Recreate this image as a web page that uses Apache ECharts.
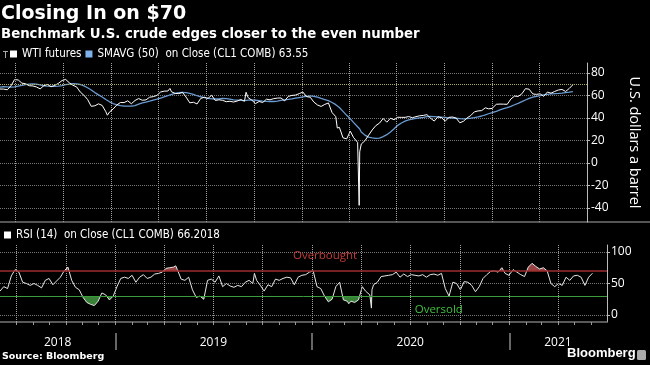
<!DOCTYPE html>
<html><head><meta charset="utf-8">
<script src="https://cdn.jsdelivr.net/npm/echarts@6/dist/echarts.min.js"></script>
<style>html,body{margin:0;padding:0;background:#000;}#c{width:650px;height:365px;}</style>
</head><body><div id="c"></div>
<script>
const dates = ['2018-06-01','2018-06-08','2018-06-15','2018-06-22','2018-06-29','2018-07-06','2018-07-13','2018-07-20','2018-07-27','2018-08-03','2018-08-10','2018-08-17','2018-08-24','2018-08-31','2018-09-07','2018-09-14','2018-09-21','2018-09-28','2018-10-05','2018-10-12','2018-10-19','2018-10-26','2018-11-02','2018-11-09','2018-11-16','2018-11-23','2018-11-30','2018-12-07','2018-12-14','2018-12-21','2018-12-24','2018-12-28',
'2019-01-04','2019-01-11','2019-01-18','2019-01-25','2019-02-01','2019-02-08','2019-02-15','2019-02-22','2019-03-01','2019-03-08','2019-03-15','2019-03-22','2019-03-29','2019-04-05','2019-04-12','2019-04-19','2019-04-23','2019-04-26','2019-05-03','2019-05-10','2019-05-17','2019-05-24','2019-05-31','2019-06-07','2019-06-14','2019-06-21','2019-06-28','2019-07-05','2019-07-12','2019-07-19','2019-07-26','2019-08-02','2019-08-09','2019-08-16','2019-08-23','2019-08-30','2019-09-06','2019-09-13','2019-09-16','2019-09-20','2019-09-27','2019-10-04','2019-10-11','2019-10-18','2019-10-25','2019-11-01','2019-11-08','2019-11-15','2019-11-22','2019-11-29','2019-12-06','2019-12-13','2019-12-20','2019-12-27',
'2020-01-03','2020-01-10','2020-01-17','2020-01-24','2020-01-31','2020-02-07','2020-02-14','2020-02-21','2020-02-28','2020-03-06','2020-03-09','2020-03-13','2020-03-20','2020-03-27','2020-04-03','2020-04-09','2020-04-17','2020-04-20','2020-04-21','2020-04-24','2020-05-01','2020-05-08','2020-05-15','2020-05-22','2020-05-29','2020-06-05','2020-06-12','2020-06-19','2020-06-26','2020-07-03','2020-07-10','2020-07-17','2020-07-24','2020-07-31','2020-08-07','2020-08-14','2020-08-21','2020-08-28','2020-09-04','2020-09-11','2020-09-18','2020-09-25','2020-10-02','2020-10-09','2020-10-16','2020-10-23','2020-10-30','2020-11-06','2020-11-13','2020-11-20','2020-11-27','2020-12-04','2020-12-11','2020-12-18','2020-12-24','2020-12-31',
'2021-01-08','2021-01-15','2021-01-22','2021-01-29','2021-02-05','2021-02-12','2021-02-19','2021-02-26','2021-03-05','2021-03-12','2021-03-19','2021-03-26','2021-04-02','2021-04-09','2021-04-16','2021-04-23','2021-04-30','2021-05-07','2021-05-14','2021-05-21','2021-05-28','2021-06-04'];

const wti = [65.8,65.7,65.1,68.6,74.2,73.8,71.0,70.5,68.7,68.5,67.6,65.9,68.7,69.8,67.8,69.0,70.8,73.3,74.3,71.3,69.1,67.6,63.1,60.2,56.5,50.4,50.9,52.6,51.2,45.6,42.5,45.3,
48.0,51.6,53.8,53.7,55.3,52.7,55.6,57.3,55.8,56.1,58.5,59.0,60.1,63.1,63.9,64.0,66.3,63.3,61.9,61.7,62.8,58.6,53.5,54.0,52.5,57.4,58.5,57.5,60.2,55.6,56.2,55.7,54.5,54.9,54.2,55.1,56.5,54.9,62.9,58.1,55.9,52.8,54.7,53.8,56.7,56.2,57.2,57.7,57.8,55.2,59.2,60.1,60.4,61.7,
63.1,59.0,58.5,54.2,51.6,50.3,52.1,53.4,44.8,41.3,31.1,31.7,22.4,21.5,28.3,22.8,18.3,-37.6,10.0,16.9,19.8,24.7,29.4,33.3,35.5,39.6,36.3,39.8,38.5,40.7,40.6,40.6,41.3,40.3,41.2,42.0,42.3,43.0,39.8,37.3,41.1,40.3,37.1,40.6,40.9,39.9,35.8,37.1,40.1,42.2,45.5,46.3,46.6,49.1,48.2,48.5,
52.2,52.4,52.3,52.2,56.9,59.5,59.2,61.5,66.1,65.6,61.4,61.0,61.5,59.3,63.1,62.1,63.6,64.9,65.4,63.6,66.3,69.6];

const sma = [67.5,67.8,67.6,67.4,67.6,68.3,69.0,69.6,70.1,70.4,70.1,69.4,68.6,68.3,68.2,68.1,68.3,68.8,69.6,70.2,70.5,70.4,69.8,68.6,66.9,64.9,62.6,60.6,58.7,56.4,55.9,54.4,
52.9,51.8,51.1,50.6,50.5,50.6,51.1,52.3,53.5,54.2,55.0,56.0,56.8,57.7,58.8,59.8,60.5,61.0,62.0,62.5,62.8,62.6,61.9,61.0,59.8,58.9,58.2,57.5,57.0,56.9,57.0,57.4,57.2,56.8,56.2,55.9,55.6,55.5,55.6,55.9,56.1,55.8,55.4,55.0,54.8,54.7,54.7,55.0,55.6,56.1,56.5,57.0,57.6,58.2,
58.8,59.3,59.6,59.3,58.5,57.4,56.4,55.4,53.8,51.9,51.0,49.3,45.9,42.4,39.3,36.1,32.2,31.0,30.3,27.6,24.8,23.0,22.3,22.0,22.2,23.5,25.2,27.6,30.5,33.5,35.6,37.2,38.3,39.0,39.6,40.1,40.6,41.2,41.4,41.2,41.0,40.8,40.5,40.2,40.0,39.8,39.4,39.3,39.5,39.9,40.4,41.0,41.8,42.8,43.8,44.8,
46.0,47.2,48.3,49.3,50.4,51.8,53.1,54.5,56.0,57.4,58.5,59.3,60.0,60.6,61.1,61.5,61.7,61.9,62.2,62.6,63.0,63.55];

const rsi = [38,45,42,62,72,68,52,50,47,50,47,43,55,58,48,54,60,70,76,55,44,40,28,20,17,15,22,35,32,24,22,30,
45,58,60,58,63,52,60,64,58,60,65,66,68,74,75,76,78,72,57,55,60,40,28,30,25,55,57,52,62,45,50,46,44,47,45,52,55,50,66,55,47,38,48,45,57,55,58,60,59,48,60,63,64,68,
70,45,42,30,21,25,45,52,24,22,18,22,20,24,45,38,32,11,40,48,52,61,62,63,64,68,60,65,61,64,63,62,64,60,64,65,63,66,42,30,52,50,40,53,52,47,37,45,58,64,69,70,68,75,66,63,
72,68,64,61,76,82,77,73,75,70,50,45,50,47,60,55,62,63,60,47,60,66.2];

const quarterLines = ['2018-07-01','2018-10-01','2019-01-01','2019-04-01','2019-07-01','2019-10-01','2020-01-01','2020-04-01','2020-07-01','2020-10-01','2021-01-01','2021-04-01'];
const monthTicks = ['2018-07-01','2018-08-01','2018-09-01','2018-10-01','2018-11-01','2018-12-01','2019-01-01','2019-02-01','2019-03-01','2019-04-01','2019-05-01','2019-06-01','2019-07-01','2019-08-01','2019-09-01','2019-10-01','2019-11-01','2019-12-01','2020-01-01','2020-02-01','2020-03-01','2020-04-01','2020-05-01','2020-06-01','2020-07-01','2020-08-01','2020-09-01','2020-10-01','2020-11-01','2020-12-01','2021-01-01','2021-02-01','2021-03-01','2021-04-01','2021-05-01','2021-06-01'];
const yearBounds = ['2019-01-01','2020-01-01','2021-01-01'];
const yearLabelAt = ['2018-09-16','2019-07-02','2020-07-01','2021-04-01'];
const yearLabels = ['2018','2019','2020','2021'];
const xMin = '2018-06-01', xMax = '2021-07-01';

const wtiName = 'WTI futures';
const smaName = 'SMAVG (50)  on Close (CL1 COMB) 63.55';
const rsiName = 'RSI (14)  on Close (CL1 COMB) 66.2018';

const ts = s => Date.parse(s + 'T00:00:00Z');
const priceData = dates.map((d,i)=>[ts(d),wti[i]]);
const smaData = dates.map((d,i)=>[ts(d),sma[i]]);
const rsiData = dates.map((d,i)=>[ts(d),rsi[i]]);
const qv = quarterLines.map(ts), mv = monthTicks.map(ts), yb = yearBounds.map(ts), yl = yearLabelAt.map(ts);

const LEG = '"Liberation Sans Narrow","DejaVu Sans Condensed","Arial Narrow",sans-serif';
const AX = '"Open Sans","Noto Sans",sans-serif';
const GRID_DOT = {type:'dotted', color:'#a0a0a0', width:1};
const H_DOT = {type:'dotted', color:'#777', width:1};
const quarterMarks = qv.map(v => ({xAxis:v}));

const chart = echarts.init(document.getElementById('c'), null, {renderer:'canvas'});
const xBase = () => ({type:'value', min:ts(xMin), max:ts(xMax), scale:true, splitLine:{show:false}, axisLabel:{show:false}});
chart.setOption({
  backgroundColor:'#000',
  animation:false,
  title:{text:'Closing In on $70', left:1, top:5, padding:0, itemGap:4,
    textStyle:{color:'#fff', fontSize:19, fontWeight:'bold', fontFamily:'DejaVu Sans'},
    subtext:'Benchmark U.S. crude edges closer to the even number',
    subtextStyle:{color:'#fff', fontSize:13.3, fontWeight:'bold', fontFamily:'DejaVu Sans'}},
  legend:[
    {left:10, top:48, padding:0, itemWidth:7, itemHeight:7, itemGap:4, icon:'rect', selectedMode:false,
     data:[wtiName, smaName], textStyle:{color:'#fff', fontSize:11.5, fontFamily:LEG}},
    {left:4, top:229, padding:0, itemWidth:7, itemHeight:7, icon:'rect', selectedMode:false,
     data:[rsiName], textStyle:{color:'#fff', fontSize:11.5, fontFamily:LEG}}
  ],
  grid:[
    {left:0, right:43, top:63, height:159},
    {left:0, right:43, top:245, height:77}
  ],
  xAxis:[
    Object.assign(xBase(), {gridIndex:0, axisLine:{show:false, onZero:false}, axisTick:{show:false}}),
    Object.assign(xBase(), {gridIndex:1, axisLine:{show:true, onZero:false, lineStyle:{color:'#777', width:1.5}}, axisTick:{show:false}}),
    Object.assign(xBase(), {gridIndex:1, position:'bottom', axisLine:{show:false, onZero:false},
      axisTick:{show:true, customValues:mv, length:3, lineStyle:{color:'#999', width:1}}}),
    Object.assign(xBase(), {gridIndex:1, position:'bottom', offset:11, axisLine:{show:false, onZero:false},
      axisTick:{show:true, customValues:yb, length:17, lineStyle:{color:'#888', width:1.5}},
      axisLabel:{show:true, customValues:yl, margin:4, color:'#fff', fontSize:12, fontFamily:AX,
        formatter:(v)=>{const i = yl.indexOf(v); return i>=0 ? yearLabels[i] : '';}}})
  ],
  yAxis:[
    {gridIndex:0, type:'value', position:'right', min:-52.4, max:88.9, splitNumber:7,
     axisLine:{show:true, lineStyle:{color:'#bbb', width:1}}, axisTick:{show:true, length:3, lineStyle:{color:'#bbb'}},
     axisLabel:{color:'#fff', fontSize:12, fontFamily:AX, margin:4, showMinLabel:false, showMaxLabel:false,
       formatter:(v)=> (Math.abs(v % 20) < 1e-6 ? String(v) : '')},
     splitLine:{show:true, showMinLine:false, showMaxLine:false, lineStyle:H_DOT},
     name:'U.S. dollars a barrel', nameLocation:'middle', nameRotate:-90, nameGap:40,
     nameTextStyle:{color:'#fff', fontSize:14.5, fontFamily:AX}},
    {gridIndex:1, type:'value', position:'right', min:-11, max:111, splitNumber:3,
     axisLine:{show:true, lineStyle:{color:'#bbb', width:1}}, axisTick:{show:true, length:3, lineStyle:{color:'#bbb'}},
     axisLabel:{color:'#fff', fontSize:12, fontFamily:AX, margin:4, showMinLabel:false, showMaxLabel:false,
       formatter:(v)=> (Math.abs(v % 50) < 1e-6 ? String(v) : '')},
     splitLine:{show:true, showMinLine:false, showMaxLine:false, lineStyle:H_DOT}}
  ],
  visualMap:[
    {show:false, type:'piecewise', seriesIndex:2, dimension:1,
     pieces:[{gt:70, lte:200, color:'#a84a4a'}, {gte:-100, lte:70, color:'rgba(0,0,0,0)'}]},
    {show:false, type:'piecewise', seriesIndex:3, dimension:1,
     pieces:[{gte:-100, lt:30, color:'#3f8f3f'}, {gte:30, lte:200, color:'rgba(0,0,0,0)'}]}
  ],
  series:[
    {name:smaName, type:'line', xAxisIndex:0, yAxisIndex:0, data:smaData, showSymbol:false, symbol:'none',
     itemStyle:{color:'#7fb2ea'}, lineStyle:{color:'#6a9bd2', width:1.3}, z:2,
     markLine:{silent:true, symbol:['none','none'], label:{show:false}, data:quarterMarks, lineStyle:GRID_DOT}},
    {name:wtiName, type:'line', xAxisIndex:0, yAxisIndex:0, data:priceData, showSymbol:false, symbol:'none',
     itemStyle:{color:'#ffffff'}, lineStyle:{color:'#ffffff', width:1}, z:3,
     markLine:{silent:true, symbol:['none','none'], label:{show:false},
       data:[{yAxis:70}], lineStyle:{type:'dotted', color:'#b0b060', width:1}}},
    {name:'rsiHigh', type:'line', xAxisIndex:1, yAxisIndex:1, data:rsiData, showSymbol:false, symbol:'none',
     lineStyle:{width:0}, areaStyle:{origin:70, opacity:0.9}, z:1,
     markLine:{silent:true, symbol:['none','none'], label:{show:false}, data:quarterMarks, lineStyle:GRID_DOT}},
    {name:'rsiLow', type:'line', xAxisIndex:1, yAxisIndex:1, data:rsiData, showSymbol:false, symbol:'none',
     lineStyle:{width:0}, areaStyle:{origin:30, opacity:0.9}, z:1},
    {name:rsiName, type:'line', xAxisIndex:1, yAxisIndex:1, data:rsiData, showSymbol:false, symbol:'none',
     itemStyle:{color:'#ffffff'}, lineStyle:{color:'#e6e6e6', width:1}, z:3,
     markLine:{silent:true, symbol:['none','none'], label:{show:false},
       data:[{yAxis:70, lineStyle:{color:'#9e2e2e', width:1.5, type:'solid'}},
             {yAxis:30, lineStyle:{color:'#3c9c3c', width:1, type:'solid'}}]},
     markPoint:{silent:true, symbol:'circle', symbolSize:1, itemStyle:{color:'rgba(0,0,0,0)'},
       label:{show:true, position:'inside', fontSize:11.5, fontFamily:AX},
       data:[{coord:[ts('2020-01-25'),94], label:{formatter:'Overbought', color:'#c43a3a'}},
             {coord:[ts('2020-08-23'),8], label:{formatter:'Oversold', color:'#3fc03f'}}]}}
  ],
  graphic:[
    {type:'rect', shape:{x:0, y:221, width:650, height:2}, style:{fill:'#555'}, silent:true},
    {type:'line', shape:{x1:3, y1:51.5, x2:8, y2:51.5}, style:{stroke:'#aaa', lineWidth:1}},
    {type:'line', shape:{x1:5.5, y1:51.5, x2:5.5, y2:58}, style:{stroke:'#aaa', lineWidth:1}},
    {type:'text', left:2, top:352, style:{text:'Source: Bloomberg', fill:'#fff', font:'bold 9.5px "DejaVu Sans"'}},
    {type:'text', left:567, top:347, style:{text:'Bloomberg', fill:'#fff', font:'bold 13px "Liberation Sans"'}},
    {type:'rect', shape:{x:637, y:350, width:9, height:10, r:1.5}, style:{fill:'#aaa'}}
  ]
});
</script></body></html>
